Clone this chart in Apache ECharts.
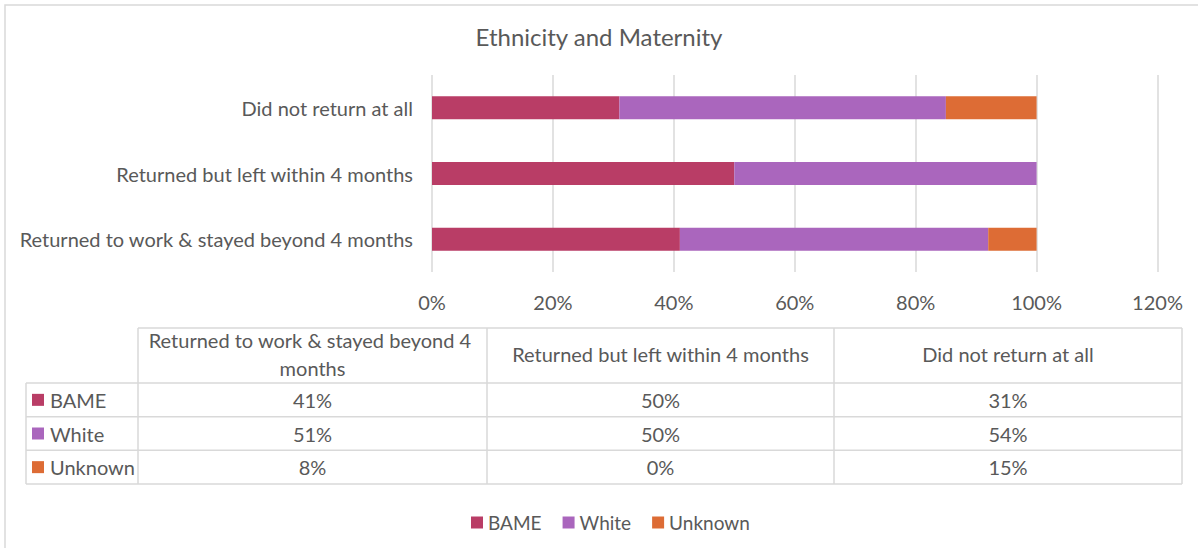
<!DOCTYPE html>
<html>
<head>
<meta charset="utf-8">
<title>Ethnicity and Maternity</title>
<script src="https://cdn.jsdelivr.net/npm/echarts@6/dist/echarts.min.js"></script>
<style>
  html, body { margin: 0; padding: 0; background: #ffffff; }
  #chart { width: 1198px; height: 548px; }
</style>
</head>
<body>
<div id="chart"></div>
<script>
// Categories (bottom to top on the bar axis, left to right in the table)
const categories = [
  'Returned to work & stayed beyond 4 months',
  'Returned but left within 4 months',
  'Did not return at all'
];
// Share of each ethnicity group per outcome
const bameValues = [0.41, 0.50, 0.31];
const whiteValues = [0.51, 0.50, 0.54];
const unknownValues = [0.08, 0.00, 0.15];
const seriesNames = ['BAME', 'White', 'Unknown'];
const seriesColors = ['#B93D66', '#AA66BD', '#DD6C35'];
const titleText = 'Ethnicity and Maternity';

const seriesValues = [bameValues, whiteValues, unknownValues];
const pct = v => Math.round(v * 100) + '%';

const FONT = 'Lato, "Open Sans", sans-serif';
const TEXT_COLOR = '#595959';
const LINE_COLOR = '#D9D9D9';
const LABEL_SIZE = 20;

// Data table layout
const tbl = {
  keyColLeft: 26,
  colEdges: [138, 487, 834, 1182],
  headerTop: 328,
  rowEdges: [383, 416.7, 450.3, 484]
};

function buildTable() {
  const els = [];
  const line = (x1, y1, x2, y2) => els.push({
    type: 'line', silent: true,
    shape: { x1, y1, x2, y2 },
    style: { stroke: LINE_COLOR, lineWidth: 1.5 }
  });
  const edges = tbl.colEdges;
  const last = edges[edges.length - 1];
  // header top border
  line(edges[0], tbl.headerTop, last, tbl.headerTop);
  // horizontal row borders
  tbl.rowEdges.forEach(y => line(tbl.keyColLeft, y, last, y));
  // vertical borders
  edges.forEach(x => line(x, tbl.headerTop, x, tbl.rowEdges[tbl.rowEdges.length - 1]));
  line(tbl.keyColLeft, tbl.rowEdges[0], tbl.keyColLeft, tbl.rowEdges[tbl.rowEdges.length - 1]);

  // header cells
  categories.forEach((cat, i) => {
    const cx = (edges[i] + edges[i + 1]) / 2;
    const w = edges[i + 1] - edges[i] - 12;
    els.push({
      type: 'text', silent: true,
      x: cx, y: (tbl.headerTop + tbl.rowEdges[0]) / 2 - 2,
      style: {
        text: cat, width: w, overflow: 'break', lineHeight: 28,
        fill: TEXT_COLOR, font: LABEL_SIZE + 'px ' + FONT,
        align: 'center', verticalAlign: 'middle'
      }
    });
  });

  // body rows: legend key + name, then values
  seriesNames.forEach((name, r) => {
    const cy = (tbl.rowEdges[r] + tbl.rowEdges[r + 1]) / 2;
    els.push({
      type: 'rect', silent: true,
      shape: { x: 32, y: cy - 6, width: 12, height: 12 },
      style: { fill: seriesColors[r] }
    });
    els.push({
      type: 'text', silent: true,
      x: 50, y: cy,
      style: {
        text: name, fill: TEXT_COLOR, font: LABEL_SIZE + 'px ' + FONT,
        align: 'left', verticalAlign: 'middle'
      }
    });
    seriesValues[r].forEach((v, c) => {
      els.push({
        type: 'text', silent: true,
        x: (edges[c] + edges[c + 1]) / 2, y: cy,
        style: {
          text: pct(v), fill: TEXT_COLOR, font: LABEL_SIZE + 'px ' + FONT,
          align: 'center', verticalAlign: 'middle'
        }
      });
    });
  });

  // chart area frame
  els.push({
    type: 'rect', silent: true, z: -1,
    shape: { x: 5, y: 5, width: 1300, height: 700 },
    style: { fill: 'none', stroke: LINE_COLOR, lineWidth: 1.5 }
  });
  return els;
}

const chart = echarts.init(document.getElementById('chart'), null, { renderer: 'svg' });

chart.setOption({
  animation: false,
  backgroundColor: '#ffffff',
  textStyle: { fontFamily: FONT },
  title: {
    text: titleText,
    left: 'center',
    top: 19,
    textStyle: { fontFamily: FONT, fontSize: 24, fontWeight: 'normal', color: TEXT_COLOR }
  },
  legend: {
    data: seriesNames,
    left: 466,
    top: 508,
    icon: 'rect',
    itemWidth: 12,
    itemHeight: 12,
    itemGap: 21,
    textStyle: { fontFamily: FONT, fontSize: 19, color: TEXT_COLOR }
  },
  grid: { left: 432, right: 40.5, top: 75, bottom: 276, containLabel: false },
  xAxis: {
    type: 'value',
    min: 0,
    max: 1.2,
    interval: 0.2,
    axisLine: { show: false },
    axisTick: { show: false },
    axisLabel: {
      formatter: pct,
      margin: 20,
      fontFamily: FONT,
      fontSize: LABEL_SIZE,
      color: TEXT_COLOR
    },
    splitLine: { show: true, lineStyle: { color: LINE_COLOR, width: 1.5 } }
  },
  yAxis: {
    type: 'category',
    data: categories,
    axisLine: { show: false },
    axisTick: { show: false },
    axisLabel: {
      margin: 19,
      fontFamily: FONT,
      fontSize: LABEL_SIZE,
      color: TEXT_COLOR
    },
    splitLine: { show: false }
  },
  series: seriesNames.map((name, i) => ({
    name,
    type: 'bar',
    stack: 'total',
    barWidth: 23,
    data: seriesValues[i],
    itemStyle: { color: seriesColors[i] }
  })),
  graphic: buildTable()
});
</script>
</body>
</html>
